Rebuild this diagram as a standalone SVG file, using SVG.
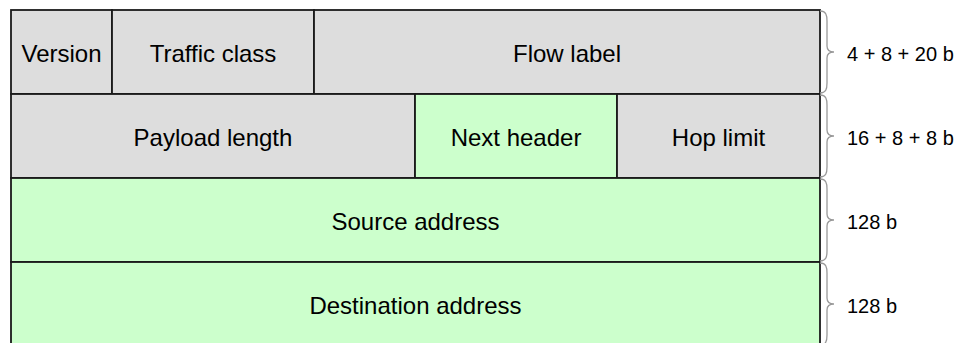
<svg xmlns="http://www.w3.org/2000/svg" width="961" height="343" viewBox="0 0 961 343">
<style>
.f{stroke:#1a1a1a;stroke-width:1.8}
.g{fill:#dddddd}
.n{fill:#ccffcc}
.t{font-family:"Liberation Sans",Arial,Helvetica,sans-serif;font-size:24px;fill:#000;text-anchor:middle}
.l{font-family:"Liberation Sans",Arial,Helvetica,sans-serif;font-size:20px;fill:#000}
.b{fill:none;stroke:#999;stroke-width:1.3}
</style>
<rect width="961" height="343" fill="#fff"/>
<g id="version"><rect class="f g" x="11" y="10" width="101" height="84"/><text class="t" x="61.5" y="62">Version</text></g>
<g id="traffic-class"><rect class="f g" x="112" y="10" width="202" height="84"/><text class="t" x="213" y="62">Traffic class</text></g>
<g id="flow-label"><rect class="f g" x="314" y="10" width="506" height="84"/><text class="t" x="567" y="62">Flow label</text></g>
<g id="payload-length"><rect class="f g" x="11" y="94" width="404" height="84"/><text class="t" x="213" y="146">Payload length</text></g>
<g id="next-header"><rect class="f n" x="415" y="94" width="202" height="84"/><text class="t" x="516" y="146">Next header</text></g>
<g id="hop-limit"><rect class="f g" x="617" y="94" width="203" height="84"/><text class="t" x="718.5" y="146">Hop limit</text></g>
<g id="source-address"><rect class="f n" x="11" y="178" width="809" height="84"/><text class="t" x="415.5" y="230">Source address</text></g>
<g id="destination-address"><rect class="f n" x="11" y="262" width="809" height="90"/><text class="t" x="415.5" y="314">Destination address</text></g>
<g id="braces">
<path class="b" d="M820,11 C826,11 827,15 827,21 L827,46 C827,50 829,52 834,52 C829,52 827,54 827,58 L827,83 C827,89 826,93 820,93"/>
<path class="b" d="M820,95 C826,95 827,99 827,105 L827,130 C827,134 829,136 834,136 C829,136 827,138 827,142 L827,167 C827,173 826,177 820,177"/>
<path class="b" d="M820,179 C826,179 827,183 827,189 L827,214 C827,218 829,220 834,220 C829,220 827,222 827,226 L827,251 C827,257 826,261 820,261"/>
<path class="b" d="M820,263 C826,263 827,267 827,273 L827,298 C827,302 829,304 834,304 C829,304 827,306 827,310 L827,335 C827,341 826,345 820,345"/>
</g>
<g id="sizes">
<text class="l" x="847" y="60.5">4 + 8 + 20 b</text>
<text class="l" x="847" y="144.5">16 + 8 + 8 b</text>
<text class="l" x="847" y="228.5">128 b</text>
<text class="l" x="847" y="312.5">128 b</text>
</g>
</svg>
